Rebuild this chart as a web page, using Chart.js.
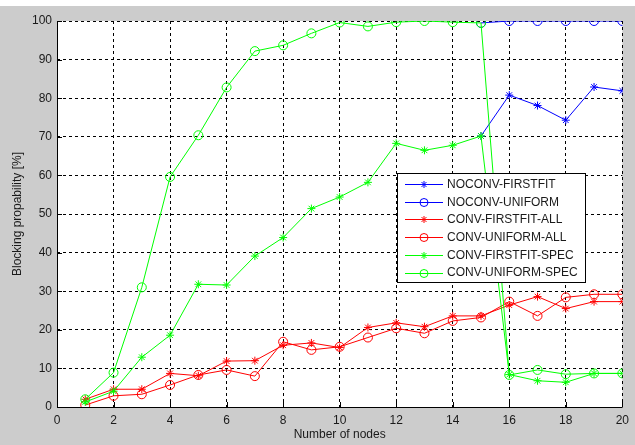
<!DOCTYPE html>
<html>
<head>
<meta charset="utf-8">
<script src="https://cdn.jsdelivr.net/npm/chart.js@4/dist/chart.umd.min.js"></script>
<style>
html,body{margin:0;padding:0;background:#ffffff;}
#wrap{position:absolute;left:0;top:0;width:635px;height:445px;}
</style>
</head>
<body>
<div id="wrap"><canvas id="c" width="635" height="445"></canvas></div>
<script>
// ---- data ----
const nodes = [1,2,3,4,5,6,7,8,9,10,11,12,13,14,15,16,17,18,19,20];
const xTicks = [0,2,4,6,8,10,12,14,16,18,20];
const yTicks = [0,10,20,30,40,50,60,70,80,90,100];
const seriesLabels = ['NOCONV-FIRSTFIT','NOCONV-UNIFORM','CONV-FIRSTFIT-ALL','CONV-UNIFORM-ALL','CONV-FIRSTFIT-SPEC','CONV-UNIFORM-SPEC'];
const noconvFirstfit = [null,null,null,null,null,null,null,null,null,null,null,null,null,null,70.2,80.8,78.1,74.3,82.9,81.9];
const noconvUniform  = [null,null,null,null,null,null,null,null,null,null,null,null,null,null,99.5,100,100,100,100,100];
const convFirstfitAll = [2.0,4.6,4.6,8.7,8.1,11.9,12.0,16.0,16.6,15.4,20.6,21.8,20.8,23.6,23.6,26.4,28.6,25.5,27.3,27.3];
const convUniformAll  = [0.5,2.9,3.3,5.7,8.3,9.6,8.0,16.9,14.8,15.6,18.0,20.4,19.1,22.3,23.2,27.3,23.6,28.4,29.2,29.2];
const convFirstfitSpec = [1.3,4.1,12.9,18.6,31.8,31.6,39.1,43.9,51.4,54.4,58.2,68.3,66.5,67.8,70.2,8.4,6.8,6.4,8.7,8.7];
const convUniformSpec  = [2.0,8.9,31.0,59.6,70.4,82.8,92.2,93.7,96.8,99.6,98.6,99.7,100,99.7,99.5,8.3,9.6,8.5,8.7,8.7];

const BLUE='rgb(0,0,255)', RED='rgb(255,0,0)', GREEN='rgb(0,255,0)';
const TXT='#1a1a1a';
const FONT='"Liberation Sans", Arial, sans-serif';

function pts(arr){ return nodes.map((x,i)=>({x:x,y:arr[i]})); }
function ds(label,arr,color,style,order){
  return {label:label,data:pts(arr),borderColor:color,backgroundColor:'rgba(0,0,0,0)',
    borderWidth:1,pointStyle:style,pointRadius:style==='circle'?4.5:4,pointBorderColor:color,
    pointBackgroundColor:'rgba(0,0,0,0)',pointBorderWidth:1,tension:0,spanGaps:false,order:order};
}
const datasets=[
  ds(seriesLabels[0],noconvFirstfit,BLUE,'star',6),
  ds(seriesLabels[1],noconvUniform,BLUE,'circle',5),
  ds(seriesLabels[2],convFirstfitAll,RED,'star',4),
  ds(seriesLabels[3],convUniformAll,RED,'circle',3),
  ds(seriesLabels[4],convFirstfitSpec,GREEN,'star',2),
  ds(seriesLabels[5],convUniformSpec,GREEN,'circle',1)
];

const bgPlugin={
  id:'bg',
  beforeDraw(chart){
    const ctx=chart.ctx, a=chart.chartArea;
    ctx.save();
    ctx.fillStyle='#cccccc';
    ctx.fillRect(0,0,chart.width,chart.height);
    ctx.fillStyle='#ffffff';
    ctx.fillRect(0,0,chart.width,6);
    ctx.fillRect(a.left,a.top,a.right-a.left,a.bottom-a.top);
    ctx.restore();
  },
  afterDatasetsDraw(chart){
    const ctx=chart.ctx, a=chart.chartArea;
    const xs=chart.scales.x, ys=chart.scales.y;
    ctx.save();
    ctx.strokeStyle='#000';
    ctx.lineWidth=1;
    ctx.beginPath();
    ctx.moveTo(a.left+0.5,a.top);
    ctx.lineTo(a.left+0.5,a.bottom+0.5);
    ctx.lineTo(a.right,a.bottom+0.5);
    ctx.stroke();
    ctx.beginPath();
    xTicks.forEach(v=>{const px=Math.round(xs.getPixelForValue(v))+0.5;ctx.moveTo(px,a.bottom);ctx.lineTo(px,a.bottom-5);});
    yTicks.forEach(v=>{const py=Math.round(ys.getPixelForValue(v))+0.5;ctx.moveTo(a.left,py);ctx.lineTo(a.left+5,py);});
    ctx.stroke();
    ctx.fillStyle=TXT;
    ctx.font='12px '+FONT;
    ctx.textAlign='center';
    ctx.textBaseline='middle';
    ctx.fillText('Number of nodes',(a.left+a.right)/2,435);
    ctx.translate(18,(a.top+a.bottom)/2);
    ctx.rotate(-Math.PI/2);
    ctx.fillText('Blocking propability [%]',0,0);
    ctx.restore();
  },
  afterDraw(chart){
    const ctx=chart.ctx;
    const bx=397.5, by=173.5, bw=188, bh=109;
    ctx.save();
    ctx.fillStyle='#ffffff';
    ctx.fillRect(bx,by,bw,bh);
    ctx.strokeStyle='#000';
    ctx.lineWidth=1;
    ctx.strokeRect(bx,by,bw,bh);
    ctx.font='12px '+FONT;
    ctx.textAlign='left';
    ctx.textBaseline='middle';
    chart.data.datasets.forEach((d,i)=>{
      const y=184+i*17.7;
      ctx.strokeStyle=d.borderColor;
      ctx.lineWidth=1;
      ctx.beginPath();
      ctx.moveTo(405,Math.round(y)+0.5);
      ctx.lineTo(443,Math.round(y)+0.5);
      ctx.stroke();
      const cx=424, cy=Math.round(y)+0.5;
      ctx.beginPath();
      if(d.pointStyle==='circle'){
        ctx.arc(cx,cy,4,0,Math.PI*2);
      } else {
        const r=3.5;
        for(let k=0;k<4;k++){
          const ang=k*Math.PI/4;
          ctx.moveTo(cx-r*Math.cos(ang),cy-r*Math.sin(ang));
          ctx.lineTo(cx+r*Math.cos(ang),cy+r*Math.sin(ang));
        }
      }
      ctx.stroke();
      ctx.fillStyle=TXT;
      ctx.fillText(d.label,447,y+0.5);
    });
    ctx.restore();
  }
};

new Chart(document.getElementById('c'),{
  type:'line',
  data:{datasets:datasets},
  options:{
    responsive:false,
    animation:false,
    devicePixelRatio:1,
    layout:{padding:{top:21,right:10,left:0,bottom:0}},
    plugins:{legend:{display:false},tooltip:{enabled:false},title:{display:false}},
    elements:{line:{borderWidth:1}},
    scales:{
      x:{type:'linear',min:0,max:20,
        afterFit(s){s.height=38;},
        afterBuildTicks(s){s.ticks=xTicks.map(v=>({value:v}));},
        border:{display:false,dash:[3,3]},
        grid:{color:'#000',lineWidth:1,drawTicks:false,tickLength:0},
        ticks:{color:TXT,font:{family:FONT,size:12},padding:6,maxRotation:0,autoSkip:false}
      },
      y:{type:'linear',min:0,max:100,
        afterFit(s){s.width=57;},
        afterBuildTicks(s){s.ticks=yTicks.map(v=>({value:v}));},
        border:{display:false,dash:[3,3]},
        grid:{color:'#000',lineWidth:1,drawTicks:false,tickLength:0},
        ticks:{color:TXT,font:{family:FONT,size:12},padding:5,autoSkip:false}
      }
    }
  },
  plugins:[bgPlugin]
});
</script>
</body>
</html>
